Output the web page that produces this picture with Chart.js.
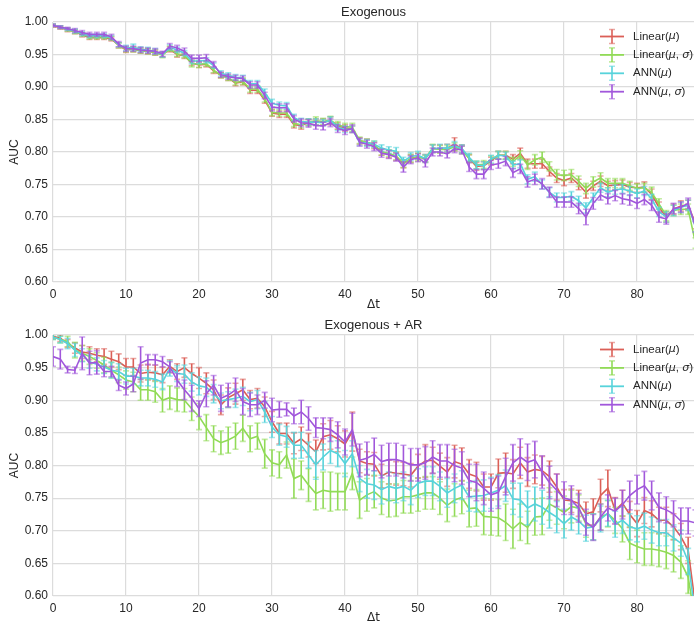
<!DOCTYPE html>
<html>
<head>
<meta charset="utf-8">
<script src="https://cdn.jsdelivr.net/npm/chart.js@4.4.1/dist/chart.umd.min.js"></script>
<style>
  html, body { margin: 0; padding: 0; background: #fff; }
  canvas { position: absolute; left: 0; }
  #exo { top: 0; }
  #exoAr { top: 313px; }
</style>
</head>
<body>
<canvas id="exo" width="694" height="313"></canvas>
<canvas id="exoAr" width="694" height="313"></canvas>
<script>
// delta t steps 0..88
const dt = Array.from({ length: 89 }, (_, i) => i);

const seriesNames = ["Linear(μ)", "Linear(μ, σ)", "ANN(μ)", "ANN(μ, σ)"];
const seriesColors = ["#db5f57", "#91db57", "#57d3db", "#a157db"];

// --- Exogenous ---
const exoLinMu = [
  0.994,0.991,0.988,0.985,0.980,0.976,0.976,0.976,0.974,0.964,
  0.957,0.958,0.956,0.955,0.953,0.950,0.958,0.950,0.948,0.937,
  0.934,0.935,0.925,0.918,0.914,0.906,0.908,0.895,0.895,0.880,
  0.860,0.858,0.858,0.842,0.841,0.845,0.846,0.846,0.848,0.840,
  0.837,0.835,0.817,0.815,0.810,0.800,0.797,0.793,0.782,0.790,
  0.793,0.790,0.805,0.805,0.806,0.812,0.805,0.790,0.778,0.779,
  0.786,0.795,0.795,0.789,0.798,0.782,0.782,0.782,0.770,0.760,
  0.756,0.760,0.750,0.738,0.748,0.755,0.748,0.749,0.750,0.746,
  0.745,0.746,0.735,0.715,0.700,0.712,0.717,0.718,0.690];
const exoLinMuSig = [
  0.995,0.992,0.988,0.985,0.981,0.977,0.977,0.977,0.975,0.964,
  0.958,0.958,0.956,0.955,0.953,0.949,0.959,0.951,0.949,0.936,
  0.935,0.936,0.926,0.918,0.914,0.907,0.909,0.897,0.897,0.882,
  0.861,0.860,0.860,0.844,0.842,0.846,0.848,0.847,0.849,0.841,
  0.839,0.838,0.818,0.815,0.812,0.800,0.798,0.794,0.782,0.790,
  0.792,0.790,0.806,0.804,0.804,0.808,0.803,0.790,0.780,0.781,
  0.788,0.795,0.795,0.785,0.795,0.780,0.788,0.792,0.778,0.765,
  0.764,0.765,0.755,0.744,0.754,0.760,0.752,0.752,0.752,0.748,
  0.744,0.745,0.738,0.720,0.702,0.710,0.712,0.712,0.660];
const exoAnnMu = [
  0.995,0.992,0.989,0.986,0.982,0.979,0.979,0.979,0.976,0.965,
  0.960,0.961,0.958,0.957,0.955,0.950,0.961,0.957,0.952,0.940,
  0.940,0.941,0.933,0.921,0.918,0.915,0.914,0.905,0.905,0.892,
  0.875,0.872,0.871,0.853,0.847,0.846,0.846,0.845,0.849,0.838,
  0.835,0.835,0.815,0.814,0.812,0.806,0.803,0.801,0.786,0.793,
  0.795,0.790,0.805,0.806,0.806,0.810,0.805,0.792,0.780,0.779,
  0.789,0.795,0.794,0.780,0.782,0.758,0.762,0.750,0.738,0.730,
  0.730,0.732,0.725,0.714,0.730,0.745,0.738,0.742,0.743,0.740,
  0.736,0.740,0.728,0.708,0.700,0.710,0.715,0.718,0.685];
const exoAnnMuSig = [
  0.995,0.992,0.990,0.987,0.984,0.981,0.981,0.981,0.977,0.966,
  0.959,0.959,0.957,0.956,0.955,0.951,0.963,0.960,0.955,0.944,
  0.944,0.945,0.935,0.919,0.916,0.914,0.913,0.903,0.903,0.887,
  0.869,0.868,0.868,0.851,0.845,0.844,0.841,0.840,0.845,0.836,
  0.833,0.836,0.815,0.812,0.808,0.798,0.796,0.792,0.777,0.788,
  0.791,0.783,0.800,0.800,0.797,0.805,0.803,0.777,0.766,0.766,
  0.780,0.782,0.786,0.768,0.774,0.754,0.758,0.751,0.738,0.723,
  0.723,0.723,0.713,0.700,0.721,0.734,0.728,0.733,0.728,0.726,
  0.721,0.727,0.718,0.700,0.697,0.713,0.715,0.721,0.685];

const exoLinMuErr = [
  0.002,0.002,0.003,0.003,0.003,0.003,0.003,0.003,0.003,0.004,
  0.004,0.004,0.004,0.004,0.004,0.004,0.004,0.004,0.004,0.004,
  0.004,0.004,0.004,0.004,0.004,0.004,0.005,0.005,0.005,0.005,
  0.005,0.005,0.005,0.005,0.006,0.005,0.005,0.005,0.006,0.005,
  0.005,0.005,0.005,0.005,0.005,0.005,0.006,0.006,0.006,0.006,
  0.005,0.006,0.006,0.006,0.006,0.010,0.006,0.006,0.006,0.006,
  0.006,0.006,0.006,0.007,0.008,0.007,0.007,0.007,0.007,0.007,
  0.008,0.007,0.008,0.009,0.007,0.008,0.007,0.007,0.007,0.007,
  0.007,0.008,0.008,0.008,0.008,0.008,0.008,0.008,0.008];
const exoLinMuSigErr = [
  0.002,0.002,0.002,0.003,0.003,0.003,0.003,0.003,0.003,0.004,
  0.004,0.004,0.004,0.004,0.004,0.004,0.004,0.004,0.004,0.005,
  0.005,0.004,0.004,0.004,0.004,0.004,0.005,0.005,0.005,0.005,
  0.005,0.005,0.005,0.005,0.005,0.005,0.006,0.005,0.006,0.006,
  0.005,0.006,0.005,0.005,0.005,0.005,0.005,0.006,0.006,0.006,
  0.006,0.005,0.006,0.006,0.006,0.006,0.006,0.006,0.006,0.006,
  0.006,0.006,0.006,0.007,0.007,0.007,0.008,0.008,0.007,0.008,
  0.008,0.008,0.008,0.008,0.008,0.008,0.007,0.007,0.007,0.007,
  0.007,0.007,0.008,0.008,0.008,0.008,0.008,0.008,0.008];
const exoAnnMuErr = [
  0.002,0.002,0.002,0.003,0.003,0.003,0.003,0.003,0.003,0.003,
  0.004,0.005,0.004,0.004,0.004,0.004,0.004,0.004,0.004,0.004,
  0.004,0.004,0.004,0.004,0.004,0.004,0.004,0.005,0.005,0.005,
  0.006,0.005,0.005,0.005,0.005,0.005,0.005,0.005,0.005,0.005,
  0.005,0.005,0.005,0.005,0.005,0.005,0.005,0.006,0.006,0.006,
  0.006,0.006,0.006,0.006,0.006,0.006,0.006,0.006,0.006,0.006,
  0.006,0.006,0.006,0.006,0.006,0.007,0.007,0.007,0.007,0.007,
  0.007,0.007,0.007,0.008,0.007,0.007,0.007,0.007,0.007,0.007,
  0.007,0.007,0.007,0.007,0.008,0.008,0.008,0.008,0.008];
const exoAnnMuSigErr = [
  0.002,0.002,0.002,0.003,0.003,0.003,0.003,0.003,0.004,0.004,
  0.004,0.004,0.004,0.004,0.004,0.004,0.004,0.004,0.005,0.005,
  0.005,0.005,0.004,0.004,0.004,0.004,0.004,0.005,0.005,0.005,
  0.006,0.006,0.006,0.005,0.006,0.006,0.006,0.006,0.006,0.006,
  0.006,0.006,0.006,0.006,0.006,0.006,0.006,0.006,0.008,0.006,
  0.006,0.006,0.006,0.006,0.006,0.006,0.006,0.007,0.007,0.007,
  0.007,0.007,0.007,0.007,0.007,0.008,0.008,0.008,0.008,0.008,
  0.008,0.008,0.008,0.012,0.009,0.008,0.008,0.008,0.008,0.008,
  0.008,0.008,0.008,0.008,0.008,0.008,0.008,0.008,0.008];

// --- Exogenous + AR ---
const arLinMu = [
  0.998,0.995,0.987,0.980,0.974,0.972,0.969,0.967,0.963,0.959,
  0.951,0.951,0.941,0.943,0.942,0.939,0.952,0.944,0.950,0.941,
  0.934,0.926,0.916,0.893,0.904,0.910,0.916,0.901,0.903,0.890,
  0.867,0.849,0.849,0.834,0.841,0.831,0.821,0.844,0.847,0.841,
  0.833,0.852,0.807,0.803,0.802,0.784,0.790,0.788,0.787,0.785,
  0.799,0.807,0.808,0.799,0.790,0.806,0.802,0.787,0.783,0.767,
  0.767,0.788,0.789,0.787,0.804,0.790,0.794,0.792,0.783,0.767,
  0.747,0.746,0.742,0.726,0.729,0.754,0.765,0.731,0.742,0.725,
  0.711,0.731,0.726,0.716,0.716,0.706,0.691,0.670,0.585];
const arLinMuSig = [
  0.997,0.993,0.990,0.977,0.972,0.967,0.961,0.954,0.946,0.939,
  0.931,0.928,0.916,0.916,0.913,0.900,0.904,0.901,0.900,0.887,
  0.875,0.858,0.841,0.835,0.839,0.845,0.857,0.841,0.845,0.818,
  0.804,0.801,0.816,0.780,0.785,0.770,0.757,0.762,0.760,0.760,
  0.760,0.788,0.747,0.755,0.760,0.750,0.746,0.747,0.752,0.752,
  0.755,0.758,0.758,0.750,0.739,0.747,0.751,0.734,0.735,0.722,
  0.721,0.720,0.713,0.703,0.713,0.705,0.721,0.722,0.741,0.735,
  0.728,0.737,0.735,0.710,0.706,0.721,0.726,0.716,0.703,0.681,
  0.676,0.672,0.672,0.670,0.667,0.662,0.652,0.629,0.560];
const arAnnMu = [
  0.997,0.993,0.987,0.977,0.969,0.959,0.955,0.951,0.946,0.944,
  0.937,0.937,0.934,0.934,0.932,0.928,0.949,0.941,0.940,0.928,
  0.922,0.920,0.910,0.899,0.901,0.903,0.906,0.898,0.901,0.882,
  0.859,0.847,0.844,0.831,0.831,0.816,0.801,0.813,0.823,0.818,
  0.803,0.818,0.780,0.772,0.770,0.763,0.768,0.765,0.768,0.762,
  0.773,0.776,0.776,0.768,0.758,0.765,0.770,0.752,0.753,0.754,
  0.758,0.762,0.769,0.749,0.747,0.735,0.741,0.736,0.728,0.721,
  0.711,0.721,0.715,0.704,0.706,0.718,0.727,0.710,0.716,0.706,
  0.703,0.707,0.701,0.697,0.697,0.689,0.681,0.653,0.570];
const arAnnMuSig = [
  0.967,0.963,0.947,0.946,0.972,0.957,0.958,0.944,0.944,0.923,
  0.918,0.925,0.957,0.962,0.962,0.959,0.951,0.931,0.916,0.903,
  0.887,0.910,0.923,0.903,0.908,0.916,0.898,0.893,0.893,0.900,
  0.885,0.886,0.886,0.876,0.882,0.872,0.858,0.857,0.855,0.847,
  0.836,0.855,0.808,0.811,0.817,0.806,0.809,0.809,0.806,0.801,
  0.801,0.804,0.813,0.807,0.807,0.800,0.796,0.777,0.774,0.765,
  0.755,0.759,0.783,0.804,0.813,0.805,0.809,0.790,0.774,0.762,
  0.750,0.747,0.735,0.713,0.705,0.721,0.735,0.730,0.740,0.754,
  0.763,0.769,0.754,0.736,0.732,0.726,0.715,0.715,0.712];

const arLinMuErr = [
  0.004,0.005,0.006,0.008,0.010,0.010,0.010,0.012,0.012,0.012,
  0.013,0.013,0.013,0.012,0.012,0.012,0.010,0.012,0.015,0.015,
  0.016,0.016,0.015,0.015,0.015,0.016,0.016,0.014,0.015,0.015,
  0.016,0.016,0.016,0.016,0.018,0.018,0.018,0.020,0.022,0.020,
  0.020,0.030,0.018,0.018,0.018,0.018,0.018,0.018,0.018,0.018,
  0.018,0.025,0.020,0.020,0.022,0.025,0.025,0.022,0.022,0.020,
  0.020,0.022,0.030,0.022,0.024,0.022,0.022,0.022,0.024,0.020,
  0.016,0.018,0.020,0.018,0.020,0.025,0.028,0.020,0.020,0.020,
  0.020,0.020,0.020,0.020,0.020,0.020,0.020,0.020,0.020];
const arLinMuSigErr = [
  0.004,0.005,0.008,0.012,0.012,0.012,0.012,0.012,0.012,0.012,
  0.014,0.015,0.016,0.016,0.016,0.018,0.018,0.018,0.018,0.018,
  0.020,0.020,0.020,0.018,0.020,0.020,0.020,0.020,0.020,0.022,
  0.020,0.020,0.020,0.030,0.022,0.025,0.025,0.028,0.030,0.028,
  0.028,0.025,0.028,0.025,0.025,0.025,0.025,0.025,0.025,0.025,
  0.025,0.025,0.025,0.025,0.025,0.025,0.025,0.028,0.028,0.028,
  0.028,0.028,0.028,0.030,0.028,0.025,0.028,0.028,0.025,0.025,
  0.025,0.025,0.020,0.020,0.020,0.020,0.020,0.020,0.020,0.025,
  0.025,0.025,0.025,0.025,0.025,0.025,0.025,0.025,0.025];
const arAnnMuErr = [
  0.004,0.005,0.008,0.010,0.010,0.010,0.010,0.010,0.012,0.012,
  0.012,0.012,0.012,0.012,0.012,0.012,0.012,0.012,0.014,0.014,
  0.014,0.014,0.014,0.012,0.012,0.014,0.014,0.014,0.014,0.016,
  0.016,0.016,0.016,0.020,0.020,0.020,0.022,0.020,0.020,0.020,
  0.020,0.020,0.020,0.022,0.022,0.022,0.022,0.022,0.022,0.022,
  0.022,0.022,0.022,0.022,0.022,0.022,0.022,0.022,0.024,0.024,
  0.024,0.024,0.024,0.024,0.026,0.026,0.026,0.026,0.024,0.024,
  0.022,0.020,0.020,0.020,0.020,0.020,0.020,0.020,0.020,0.020,
  0.020,0.020,0.020,0.020,0.020,0.020,0.020,0.020,0.020];
const arAnnMuSigErr = [
  0.015,0.015,0.005,0.005,0.025,0.018,0.018,0.008,0.008,0.008,
  0.010,0.012,0.025,0.008,0.008,0.008,0.008,0.010,0.015,0.020,
  0.012,0.020,0.015,0.020,0.018,0.018,0.020,0.018,0.015,0.012,
  0.018,0.012,0.010,0.012,0.018,0.018,0.015,0.016,0.018,0.020,
  0.020,0.025,0.025,0.025,0.025,0.025,0.025,0.025,0.025,0.025,
  0.025,0.025,0.025,0.025,0.025,0.025,0.025,0.025,0.028,0.025,
  0.025,0.025,0.028,0.028,0.028,0.028,0.028,0.025,0.025,0.025,
  0.025,0.022,0.022,0.020,0.020,0.020,0.020,0.020,0.022,0.022,
  0.022,0.022,0.022,0.022,0.020,0.020,0.020,0.020,0.020];

const FONT = '"Liberation Sans", Arial, sans-serif';
const TEXT = "#262626";

// vertical error bars with caps, drawn right after each line
const errorBars = {
  id: "errorBars",
  afterDatasetDraw(chart, args) {
    const ds = chart.data.datasets[args.index];
    if (!ds.errors) return;
    const y = chart.scales.y, a = chart.chartArea, ctx = chart.ctx;
    ctx.save();
    ctx.beginPath();
    ctx.rect(a.left, a.top, a.right - a.left, a.bottom - a.top);
    ctx.clip();
    ctx.strokeStyle = ds.borderColor;
    ctx.lineWidth = 1.6;
    args.meta.data.forEach((pt, i) => {
      const v = ds.data[i].y, e = ds.errors[i];
      const y0 = y.getPixelForValue(v - e), y1 = y.getPixelForValue(v + e);
      ctx.globalAlpha = 1;
      ctx.beginPath();
      ctx.moveTo(pt.x, y0); ctx.lineTo(pt.x, y1);
      ctx.stroke();
      ctx.globalAlpha = 0.55;
      ctx.beginPath();
      ctx.moveTo(pt.x - 3, y0); ctx.lineTo(pt.x + 3, y0);
      ctx.moveTo(pt.x - 3, y1); ctx.lineTo(pt.x + 3, y1);
      ctx.stroke();
    });
    ctx.restore();
  }
};

// label text with italic greek letters, like mathtext
function drawMath(ctx, text, x, y) {
  ctx.save();
  ctx.fillStyle = TEXT;
  ctx.textBaseline = "middle";
  for (const ch of text) {
    if (ch === "μ" || ch === "σ") ctx.font = 'italic 11px "DejaVu Sans"';
    else ctx.font = "11.5px " + FONT;
    ctx.fillText(ch, x, y);
    x += ctx.measureText(ch).width;
  }
  ctx.restore();
}

const errLegend = {
  id: "errLegend",
  afterDraw(chart) {
    const ctx = chart.ctx, a = chart.chartArea;
    chart.data.datasets.forEach((ds, i) => {
      const yy = a.top + 14.5 + i * 18.4, x0 = 600;
      ctx.save();
      ctx.strokeStyle = ds.borderColor;
      ctx.lineWidth = 1.8;
      ctx.beginPath(); ctx.moveTo(x0, yy); ctx.lineTo(x0 + 24, yy); ctx.stroke();
      ctx.lineWidth = 1.6;
      ctx.beginPath(); ctx.moveTo(x0 + 12, yy - 7); ctx.lineTo(x0 + 12, yy + 7); ctx.stroke();
      ctx.globalAlpha = 0.55;
      ctx.beginPath();
      ctx.moveTo(x0 + 9, yy - 7); ctx.lineTo(x0 + 15, yy - 7);
      ctx.moveTo(x0 + 9, yy + 7); ctx.lineTo(x0 + 15, yy + 7);
      ctx.stroke();
      ctx.restore();
      drawMath(ctx, ds.label, x0 + 33, yy);
    });
  }
};

function makeChart(id, title, means, errs, xHeight) {
  const datasets = means.map((m, k) => ({
    label: seriesNames[k],
    data: dt.map((x, i) => ({ x: x, y: m[i] })),
    errors: errs[k],
    borderColor: seriesColors[k],
    borderWidth: 1.6,
    pointRadius: 0,
    tension: 0,
    fill: false,
    order: 4 - k
  }));
  return new Chart(document.getElementById(id), {
    type: "line",
    data: { datasets: datasets },
    options: {
      responsive: false,
      animation: false,
      layout: { padding: 0 },
      plugins: {
        legend: { display: false },
        tooltip: { enabled: false },
        title: {
          display: true, text: title, fullSize: false, color: TEXT,
          font: { family: FONT, size: 13, weight: "normal" },
          padding: { top: 5, bottom: 1.4 }
        }
      },
      scales: {
        x: {
          type: "linear", min: 0, max: 87.8,
          afterBuildTicks(s) { s.ticks = s.ticks.filter(t => Math.abs(t.value % 10) < 1e-6); },
          afterFit(s) { s.height = xHeight; },
          ticks: { stepSize: 10, padding: 5, maxRotation: 0, color: TEXT, font: { family: FONT, size: 12 } },
          grid: { color: "#dcdcdc", lineWidth: 1.2, drawTicks: false },
          border: { display: false },
          title: { display: true, text: "Δt", color: TEXT, font: { family: '"DejaVu Sans"', size: 12 }, padding: { top: 0, bottom: 1 } }
        },
        y: {
          min: 0.6, max: 1.0,
          afterFit(s) { s.width = 53; },
          ticks: { stepSize: 0.05, padding: 5, color: TEXT, font: { family: FONT, size: 12 }, callback: v => v.toFixed(2) },
          grid: { color: "#dcdcdc", lineWidth: 1.2, drawTicks: false },
          border: { display: false },
          title: { display: true, text: "AUC", color: TEXT, font: { family: FONT, size: 12 }, padding: { top: 7 } }
        }
      }
    },
    plugins: [errorBars, errLegend]
  });
}

makeChart("exo", "Exogenous",
  [exoLinMu, exoLinMuSig, exoAnnMu, exoAnnMuSig],
  [exoLinMuErr, exoLinMuSigErr, exoAnnMuErr, exoAnnMuSigErr], 31);
makeChart("exoAr", "Exogenous + AR",
  [arLinMu, arLinMuSig, arAnnMu, arAnnMuSig],
  [arLinMuErr, arLinMuSigErr, arAnnMuErr, arAnnMuSigErr], 30);
</script>
</body>
</html>
